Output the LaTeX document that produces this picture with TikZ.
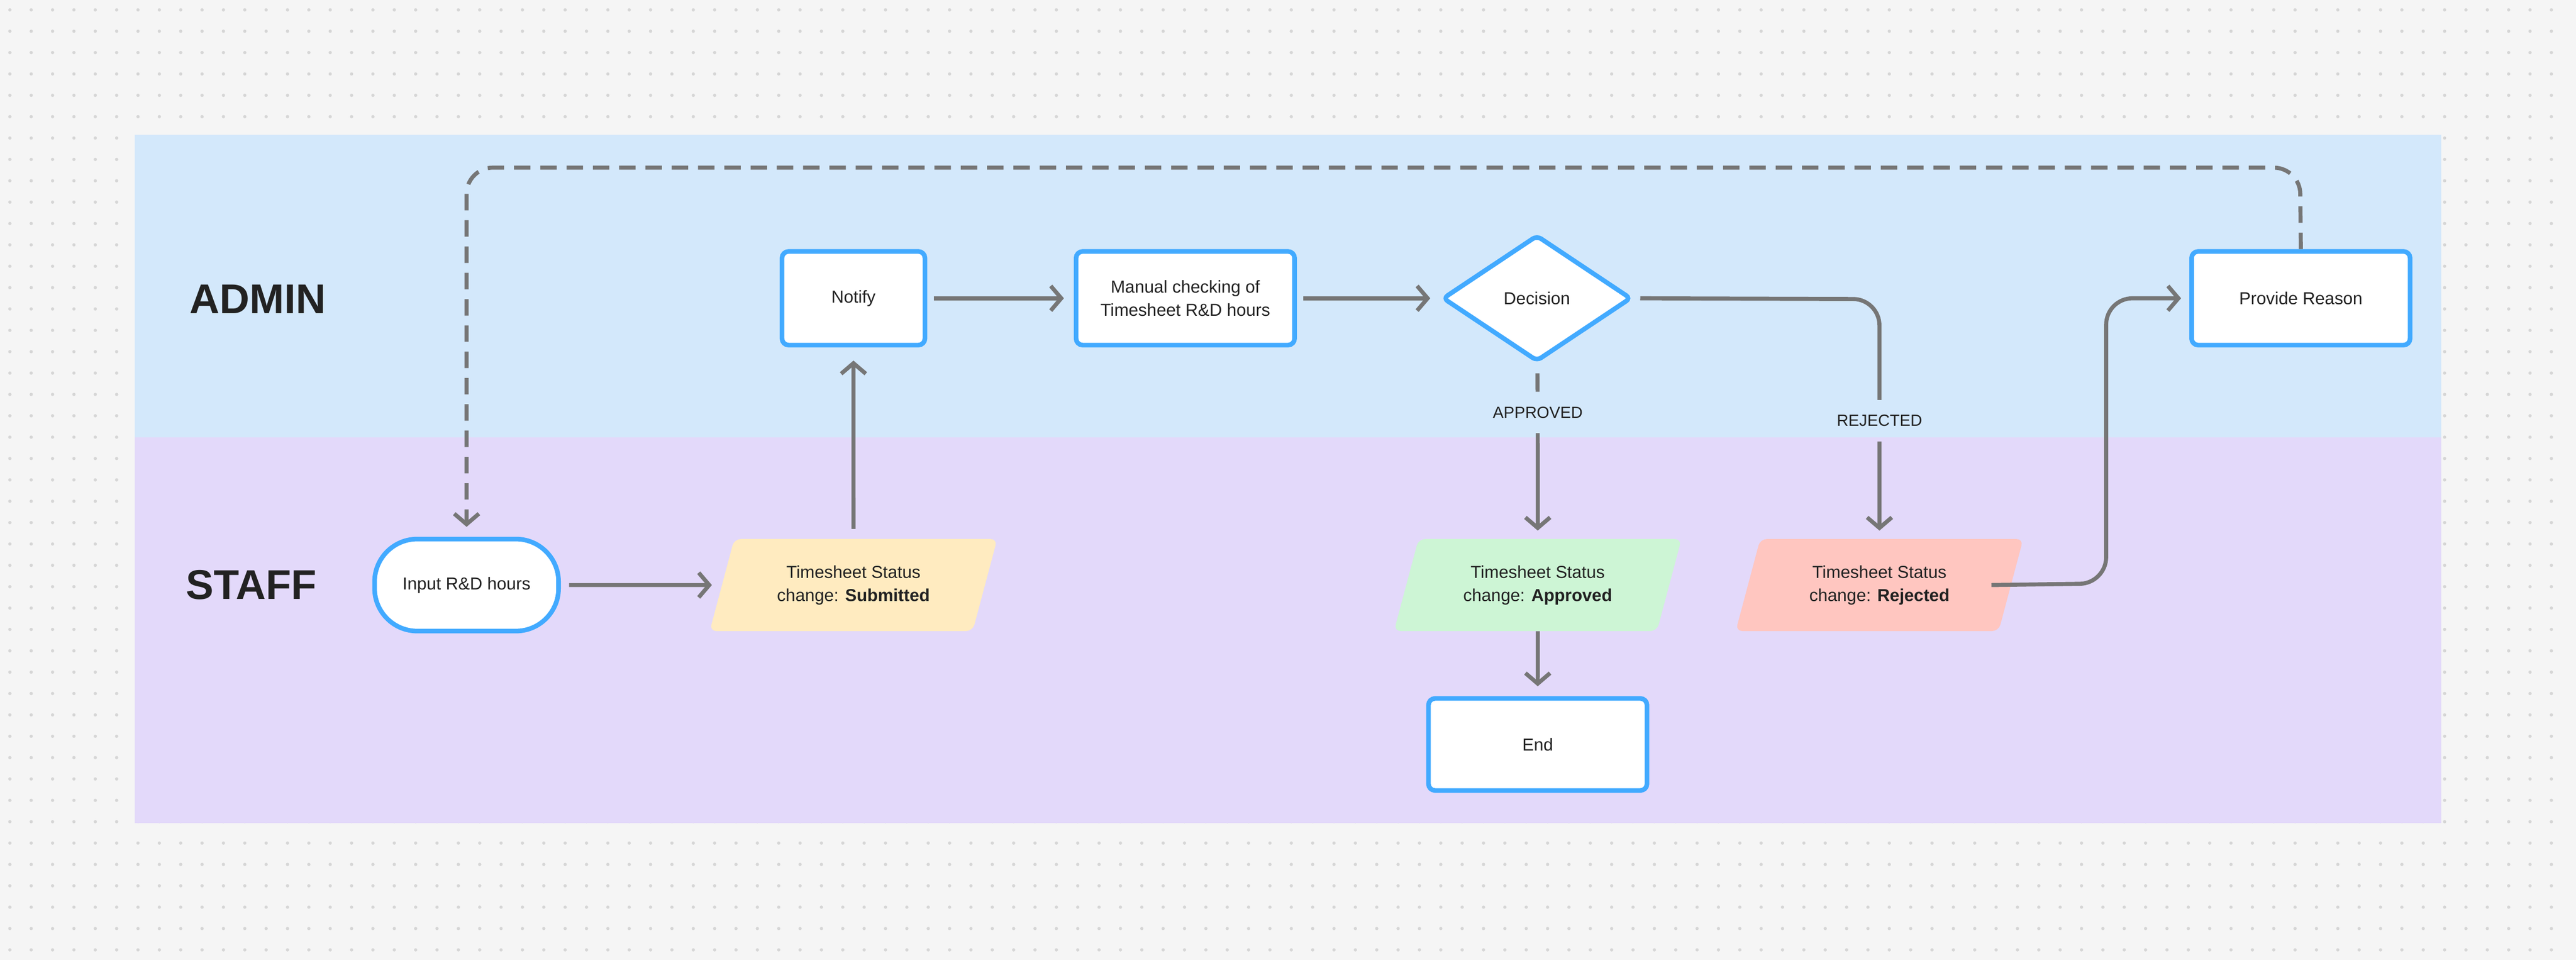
\documentclass[tikz,border=0pt]{standalone}
\usepackage{fontspec}
\setmainfont{Liberation Sans}
\usetikzlibrary{shapes.geometric,arrows.meta,positioning}
\definecolor{canvasgray}{HTML}{F5F5F5}
\definecolor{dotgray}{HTML}{D6D6D6}
\definecolor{adminblue}{HTML}{D3E8FB}
\definecolor{staffpurple}{HTML}{E3D9FA}
\definecolor{boxblue}{HTML}{42AAFF}
\definecolor{linegray}{HTML}{767676}
\definecolor{subyellow}{HTML}{FFEBC0}
\definecolor{appgreen}{HTML}{CDF5D5}
\definecolor{rejpink}{HTML}{FFC6C0}
\definecolor{inkdark}{HTML}{222222}
\tikzset{
  procbox/.style={draw=boxblue, line width=4pt, fill=white, rounded corners=0.2cm,
    minimum width=6.65cm, minimum height=2.85cm, align=center, inner sep=0pt,
    font=\fontsize{15}{20}\selectfont, text=inkdark},
  status/.style={trapezium, trapezium left angle=58, trapezium right angle=122,
    trapezium stretches body=true, minimum width=8.75cm, minimum height=2.8cm,
    rounded corners=0.2cm, align=center, inner sep=0pt,
    font=\fontsize{15}{20}\selectfont, text=inkdark},
  flow/.style={draw=linegray, line width=3.5pt, rounded corners=0.8cm,
    -{Straight Barb[length=0.32cm,width=0.75cm]}},
  lanelabel/.style={font=\fontsize{36}{40}\selectfont\bfseries, text=inkdark},
  edgelabel/.style={font=\fontsize{14}{16}\selectfont, text=inkdark, inner sep=0.45cm}
}
\begin{document}
\begin{tikzpicture}[x=0.05cm,y=-0.05cm]
% canvas and lanes
\fill[canvasgray] (0,0) rectangle (1568,584);
\foreach \i in {0,...,119} \foreach \j in {0,...,44}
  \fill[dotgray] (6+13*\i,6+13*\j) circle (0.05cm);
\fill[adminblue] (82,82) rectangle (1486,266);
\fill[staffpurple] (82,266) rectangle (1486,501);
\node[lanelabel] (admin) at (157,182) {ADMIN};
\node[lanelabel] (staff) at (153,356) {STAFF};

% admin lane
\node[procbox, minimum width=4.35cm] (notify) at (519.5,181.5) {Notify};
\node[procbox] (manual) at (721.5,181.5) {Manual checking of\\Timesheet R\&D hours};
\node[diamond, draw=boxblue, line width=4pt, fill=white, rounded corners=0.15cm,
  minimum width=5.75cm, minimum height=3.85cm, inner sep=0pt,
  font=\fontsize{15}{20}\selectfont, text=inkdark] (decision) at (935.5,181.5) {Decision};
\node[procbox] (reason) at (1400.5,181.5) {Provide Reason};

% staff lane
\node[procbox, minimum width=5.6cm, minimum height=2.8cm, rounded corners=1.3cm] (input) at (284,356) {Input R\&D hours};
\node[status, fill=subyellow] (submitted) at (519.5,356) {Timesheet Status\\change: \textbf{Submitted}};
\node[status, fill=appgreen] (approved) at (936,356) {Timesheet Status\\change: \textbf{Approved}};
\node[status, fill=rejpink] (rejected) at (1144,356) {Timesheet Status\\change: \textbf{Rejected}};
\node[procbox, minimum height=2.8cm] (end) at (936,453) {End};

% edge labels
\node[edgelabel] (lblapp) at (936,251) {APPROVED};
\node[edgelabel] (lblrej) at (1144,256) {REJECTED};
\coordinate (rejturn) at (1144,182);
\coordinate (upturn) at (1282,355);
\coordinate (dashtop) at (1400,102);

% connectors
\draw[flow, shorten <=0.25cm, shorten >=0.3cm] (input) -- (submitted);
\draw[flow, shorten <=0.3cm, shorten >=0.4cm] (submitted) -- (notify);
\draw[flow, shorten <=0.2cm, shorten >=0.3cm] (notify) -- (manual);
\draw[flow, shorten <=0.2cm, shorten >=0.3cm] (manual) -- (decision);
\draw[flow, -, shorten <=0.3cm] (decision) -- (lblapp);
\draw[flow, shorten >=0.25cm] (lblapp) -- (approved);
\draw[flow, shorten >=0.3cm] (approved) -- (end);
\draw[flow, -, shorten <=0.2cm] (decision.east) -- (rejturn) -- (lblrej.north);
\draw[flow, shorten >=0.25cm] (lblrej) -- (rejected);
\draw[flow, shorten >=0.25cm] (rejected.east) ++(-12,0) -- (upturn) |- (reason.west);
\draw[flow, dash pattern=on 0.5cm off 0.3cm, shorten >=0.3cm]
  (reason.north) -- (dashtop) -| (input.north);
\end{tikzpicture}
\end{document}
